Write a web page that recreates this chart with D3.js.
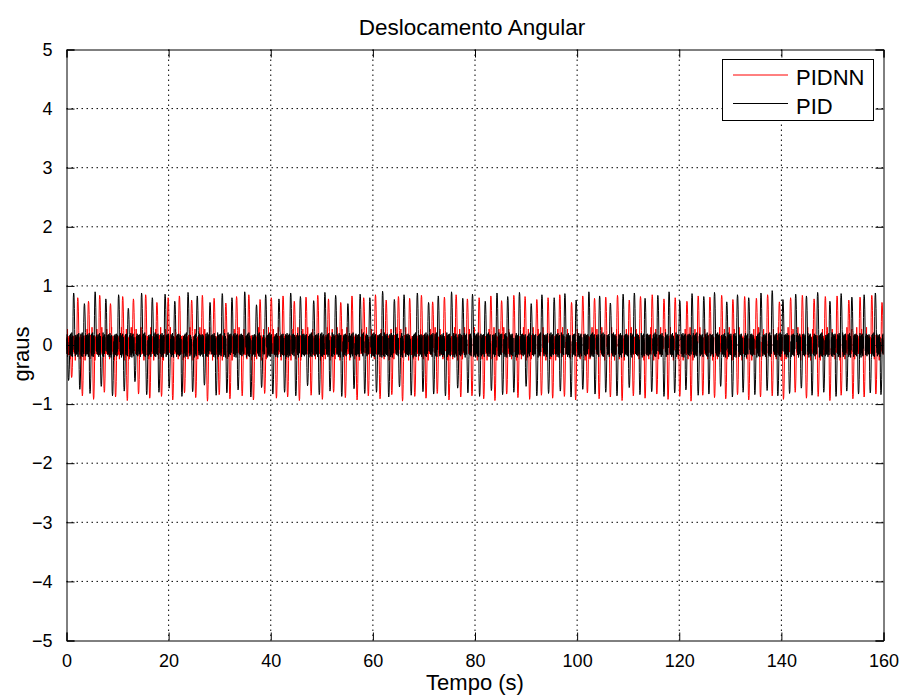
<!DOCTYPE html>
<html><head><meta charset="utf-8">
<script src="https://cdn.jsdelivr.net/npm/d3@7"></script>
<style>body{margin:0;background:#fff}svg{display:block}text{font-family:"Liberation Sans",Arial,Helvetica,sans-serif}</style>
</head><body><svg id="c" width="901" height="695"></svg>
<script>
// ---- data ----
const xTicks = [0,20,40,60,80,100,120,140,160];
const yTicks = [-5,-4,-3,-2,-1,0,1,2,3,4,5];
const seriesNames = ["PIDNN","PID"];
const seriesColors = ["#ff0000","#000000"];

// PID (black) spike times (s) and peak values (graus)
const pidUpT = [1.4,3.5,5.6,7.7,10.2,12.1,14.7,16.8,19.3,21.2,23.8,25.6,28.1,30.5,32.4,34.9,37.2,39.0,41.6,43.9,45.8,48.4,50.6,52.7,55.1,57.5,59.4,61.9,64.2,66.1,68.7,70.9,72.8,75.4,77.6,79.5,82.0,84.3,86.4,88.7,91.0,93.1,95.5,97.6,99.8,102.3,104.4,106.5,109.0,111.2,113.3,115.8,118.0,120.1,122.5,124.8,126.9,129.3,131.4,133.6,136.0,138.2,140.3,142.8,144.9,147.1,149.5,151.7,153.8,156.2,158.4];
const pidUpV = [0.88,0.70,0.90,0.78,0.85,0.62,0.88,0.80,0.86,0.74,0.89,0.83,0.72,0.87,0.80,0.90,0.68,0.85,0.78,0.88,0.82,0.75,0.89,0.84,0.70,0.86,0.80,0.91,0.77,0.85,0.88,0.72,0.83,0.90,0.79,0.86,0.74,0.88,0.82,0.89,0.70,0.85,0.80,0.87,0.76,0.90,0.83,0.71,0.86,0.88,0.79,0.84,0.90,0.75,0.87,0.82,0.89,0.73,0.85,0.80,0.88,0.92,0.77,0.86,0.83,0.89,0.74,0.87,0.81,0.85,0.88];
const pidDnT = [0.4,2.6,4.6,6.8,9.0,11.3,13.4,15.7,18.1,20.1,22.6,24.7,27.0,29.3,31.4,33.6,36.1,38.2,40.4,42.7,44.9,47.2,49.5,51.6,53.9,56.3,58.4,60.7,63.1,65.2,67.5,69.8,71.9,74.2,76.6,78.6,80.9,83.2,85.4,87.6,90.0,92.1,94.4,96.7,98.8,101.1,103.5,105.6,107.8,110.2,112.3,114.6,117.0,119.1,121.3,123.7,125.8,128.1,130.4,132.5,134.8,137.2,139.3,141.6,143.9,146.0,148.3,150.7,152.8,155.1,157.4,159.5];
const pidDnV = [-0.60,-0.75,-0.82,-0.70,-0.86,-0.78,-0.62,-0.84,-0.80,-0.73,-0.87,-0.79,-0.68,-0.85,-0.81,-0.76,-0.88,-0.72,-0.83,-0.80,-0.86,-0.69,-0.84,-0.78,-0.87,-0.74,-0.82,-0.80,-0.88,-0.71,-0.85,-0.79,-0.83,-0.86,-0.73,-0.81,-0.87,-0.77,-0.84,-0.80,-0.70,-0.86,-0.82,-0.78,-0.88,-0.75,-0.83,-0.80,-0.86,-0.72,-0.84,-0.79,-0.87,-0.81,-0.76,-0.85,-0.83,-0.70,-0.88,-0.80,-0.84,-0.77,-0.86,-0.82,-0.73,-0.85,-0.80,-0.87,-0.78,-0.83,-0.81,-0.84];
// small oscillation of PID between spikes (graus), one cycle
const pidNoise = [0.10,-0.15,0.18,-0.07,0.12,-0.20,0.05,0.16,-0.11,0.20,-0.17,0.08,-0.04,0.15,-0.21,0.11,-0.09,0.17,-0.14,0.04,0.19,-0.16,0.09,-0.19,0.13,-0.06,0.21,-0.12,0.06,-0.20,0.16,-0.08,0.11,-0.15,0.18,-0.10,0.03,-0.17,0.15,-0.05,0.19,-0.13,0.08,-0.19,0.12,-0.11,0.17,-0.07,0.14,-0.16,0.09];

// PIDNN (red) spike times (s) and peak values (graus)
const pidnnUpT = [2.2,4.3,6.5,8.6,11.0,13.1,15.5,17.7,19.9,22.1,24.5,26.6,28.9,31.2,33.3,35.7,37.9,40.1,42.4,44.6,46.9,49.2,51.3,53.7,55.9,58.2,60.5,62.6,65.0,67.2,69.5,71.7,74.0,76.3,78.5,80.8,83.1,85.2,87.6,89.8,92.1,94.3,96.6,98.9,101.1,103.4,105.6,107.9,110.2,112.4,114.7,117.0,119.2,121.5,123.7,126.0,128.3,130.5,132.8,135.1,137.3,139.6,141.8,144.1,146.4,148.6,150.9,153.2,155.4,157.7,159.7];
const pidnnUpV = [0.80,0.74,0.84,0.70,0.82,0.78,0.85,0.72,0.80,0.83,0.76,0.84,0.79,0.71,0.82,0.85,0.77,0.80,0.83,0.74,0.81,0.84,0.78,0.72,0.83,0.80,0.85,0.76,0.82,0.79,0.84,0.73,0.81,0.85,0.78,0.80,0.83,0.75,0.84,0.82,0.77,0.80,0.85,0.72,0.83,0.79,0.81,0.84,0.76,0.82,0.85,0.78,0.80,0.74,0.83,0.81,0.84,0.77,0.82,0.79,0.85,0.73,0.80,0.84,0.78,0.82,0.83,0.76,0.81,0.84,0.72];
const pidnnDnT = [1.0,3.1,5.3,7.4,9.6,11.9,14.1,16.3,18.6,20.8,23.1,25.3,27.6,29.9,32.0,34.4,36.6,38.8,41.1,43.3,45.6,47.9,50.1,52.3,54.6,56.9,59.1,61.4,63.7,65.8,68.2,70.4,72.6,74.9,77.2,79.4,81.7,83.9,86.2,88.4,90.7,93.0,95.2,97.5,99.7,102.0,104.3,106.5,108.8,111.0,113.3,115.6,117.8,120.1,122.3,124.6,126.9,129.1,131.4,133.6,135.9,138.2,140.4,142.7,144.9,147.2,149.5,151.7,154.0,156.2,158.5];
const pidnnDnV = [-0.55,-0.86,-0.92,-0.80,-0.88,-0.94,-0.83,-0.90,-0.87,-0.93,-0.81,-0.89,-0.95,-0.84,-0.91,-0.86,-0.93,-0.82,-0.90,-0.88,-0.94,-0.85,-0.92,-0.80,-0.89,-0.93,-0.86,-0.91,-0.84,-0.95,-0.87,-0.90,-0.82,-0.93,-0.88,-0.86,-0.91,-0.94,-0.83,-0.89,-0.92,-0.85,-0.90,-0.87,-0.93,-0.81,-0.91,-0.88,-0.94,-0.86,-0.90,-0.83,-0.92,-0.87,-0.95,-0.85,-0.89,-0.91,-0.84,-0.93,-0.88,-0.86,-0.92,-0.80,-0.90,-0.87,-0.94,-0.85,-0.91,-0.88,-0.83];
const pidnnNoise = [-0.08,0.13,-0.15,0.05,-0.11,0.27,-0.03,0.12,-0.14,0.08,-0.17,0.04,0.15,-0.06,0.10,-0.16,0.12,-0.02,0.14,-0.24,0.07,-0.14,0.17,-0.05,0.11,-0.13,0.03,0.16,-0.09,0.30,-0.16,0.06,-0.10,0.13,-0.04,0.15,-0.12,0.09,-0.15,0.02,0.11,-0.07,0.16,-0.26,0.05,-0.10,0.14,-0.06];

// ---- build ----
const svg = d3.select("#c");
const W = 901, H = 695;
const x = d3.scaleLinear().domain([0,160]).range([66.5,883.5]);
const y = d3.scaleLinear().domain([-5,5]).range([640.5,49.5]);
const dt = 0.04;
// relative shape of a spike around its peak: [time offset (s), fraction of peak]
const pulseShape = [[-0.12,0.55],[-0.06,0.92],[0,1],[0.07,0.96],[0.14,0.7],[0.2,0.3]];

function buildSeries(noise, upT, upV, dnT, dnV){
  const pts = [];
  const n = Math.round(160/dt);
  const spikes = d3.zip(upT, upV).concat(d3.zip(dnT, dnV));
  const busy = t => spikes.some(s => t > s[0]-0.14 && t < s[0]+0.22);
  for(let k=0;k<=n;k++){ const t=k*dt; if(!busy(t)) pts.push([t, noise[k % noise.length]]); }
  spikes.forEach(s => pulseShape.forEach(p => pts.push([s[0]+p[0], s[1]*p[1]])));
  pts.sort((a,b)=>a[0]-b[0]);
  return pts.filter(p=>p[0]>=0 && p[0]<=160);
}
const seriesData = [
  buildSeries(pidnnNoise, pidnnUpT, pidnnUpV, pidnnDnT, pidnnDnV),
  buildSeries(pidNoise, pidUpT, pidUpV, pidDnT, pidDnV)
];

svg.append("rect").attr("width",W).attr("height",H).attr("fill","#fff");

// grid
const g = svg.append("g");
g.selectAll(".gx").data(xTicks.slice(1,-1)).join("line")
  .attr("x1",d=>x(d)).attr("x2",d=>x(d)).attr("y1",y(5)).attr("y2",y(-5))
  .attr("stroke","#000").attr("stroke-width",1).attr("stroke-dasharray","1.5,3.5");
g.selectAll(".gy").data(yTicks.slice(1,-1)).join("line")
  .attr("y1",d=>y(d)).attr("y2",d=>y(d)).attr("x1",x(0)).attr("x2",x(160))
  .attr("stroke","#000").attr("stroke-width",1).attr("stroke-dasharray","1.5,3.5");

// lines
svg.append("clipPath").attr("id","pc").append("rect")
  .attr("x",66.5).attr("y",49.5).attr("width",817).attr("height",591);
const line = d3.line().x(d=>x(d[0])).y(d=>y(d[1]));
svg.append("g").attr("clip-path","url(#pc)").selectAll("path").data(seriesData).join("path")
  .attr("d",line).attr("fill","none")
  .attr("stroke",(d,i)=>seriesColors[i]).attr("stroke-width",1);

// axes (MATLAB style, ticks inward, box)
const tl = 8;
const fmt = d=> d<0 ? "\u2212"+Math.abs(d) : String(d);
const axB = d3.axisBottom(x).tickValues(xTicks).tickSize(-tl).tickPadding(tl+6).tickFormat(fmt);
const axL = d3.axisLeft(y).tickValues(yTicks).tickSize(-tl).tickPadding(tl+6).tickFormat(fmt);
const axT = d3.axisTop(x).tickValues(xTicks).tickSize(-tl).tickFormat("");
const axR = d3.axisRight(y).tickValues(yTicks).tickSize(-tl).tickFormat("");
function style(sel){
  sel.selectAll("path").attr("stroke","#000").attr("stroke-width",1);
  sel.selectAll("line").attr("stroke","#000").attr("stroke-width",1);
  sel.selectAll("text").attr("fill","#000").style("font-size","18px").style("font-family","'Liberation Sans',Arial,sans-serif");
}
svg.append("g").attr("transform",`translate(0,${y(-5)})`).call(axB).call(style);
svg.append("g").attr("transform",`translate(${x(0)},0)`).call(axL).call(style);
svg.append("g").attr("transform",`translate(0,${y(5)})`).call(axT).call(style);
svg.append("g").attr("transform",`translate(${x(160)},0)`).call(axR).call(style);

// titles
svg.append("text").attr("x",472).attr("y",35).attr("text-anchor","middle")
  .style("font-size","22.5px").text("Deslocamento Angular");
svg.append("text").attr("x",475).attr("y",690).attr("text-anchor","middle")
  .style("font-size","22px").text("Tempo (s)");
svg.append("text").attr("transform","translate(29,354) rotate(-90)").attr("text-anchor","middle")
  .style("font-size","22px").text("graus");

// legend
const lg = svg.append("g");
lg.append("rect").attr("x",722.5).attr("y",59.5).attr("width",151).attr("height",61)
  .attr("fill","#fff").attr("stroke","#000").attr("stroke-width",1);
seriesNames.forEach((nm,i)=>{
  const yy = 75 + i*28.5;
  lg.append("line").attr("x1",733).attr("x2",788).attr("y1",yy).attr("y2",yy)
    .attr("stroke",seriesColors[i]).attr("stroke-width",1);
  lg.append("text").attr("x",796).attr("y",yy+10).style("font-size","22px").text(nm);
});
</script></body></html>
